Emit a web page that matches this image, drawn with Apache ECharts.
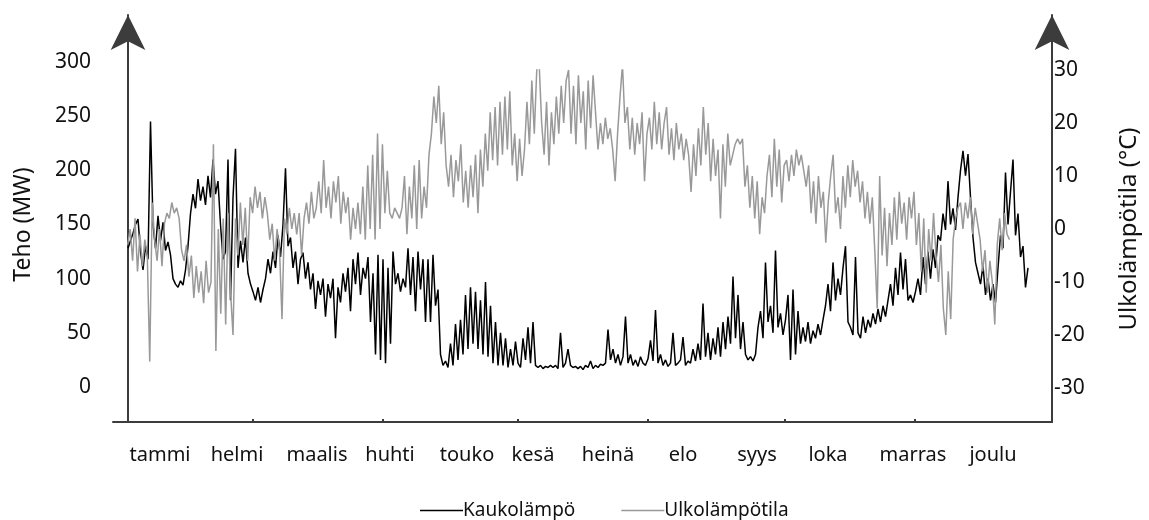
<!DOCTYPE html>
<html>
<head>
<meta charset="utf-8">
<script src="https://cdn.jsdelivr.net/npm/echarts@6/dist/echarts.min.js"></script>
<style>
  html, body { margin: 0; padding: 0; background: #fff; }
  #chart { width: 1149px; height: 520px; }
</style>
</head>
<body>
<div id="chart"></div>
<script>
// Month names along the bottom axis and their positions (sample index units)
const months = ['tammi', 'helmi', 'maalis', 'huhti', 'touko', 'kesä', 'heinä', 'elo', 'syys', 'loka', 'marras', 'joulu'];
const monthPos = [12.8, 43.6, 75.6, 104.8, 135.6, 162, 192, 222, 251.6, 280, 314, 346];
const monthTicks = [50, 102, 156, 208, 262.8, 314.8];

// Left axis: district heating power (MW)
const heatMin = 0, heatMax = 300, heatStep = 50;
// Right axis: outdoor temperature (°C)
const tempMin = -30, tempMax = 30, tempStep = 10;

// District heating power, MW, over the year
const heat = [
  128, 135, 142, 150, 155, 125, 108, 130, 118, 245,
  150, 128, 158, 135, 152, 126, 134, 122, 100, 95,
  92, 98, 94, 108, 130, 160, 178, 165, 192, 172,
  185, 168, 195, 175, 210, 178, 190, 150, 118, 125,
  210, 80, 175, 220, 110, 135, 115, 138, 105, 95,
  88, 80, 92, 78, 90, 100, 118, 105, 125, 110,
  140, 120, 150, 202, 130, 138, 110, 125, 95, 118,
  124, 100, 115, 90, 105, 72, 98, 85, 100, 65,
  95, 82, 100, 45, 92, 78, 105, 88, 110, 70,
  118, 95, 124, 85, 110, 100, 120, 60, 105, 30,
  122, 25, 118, 22, 110, 40, 125, 95, 105, 88,
  100, 92, 128, 85, 120, 70, 125, 90, 118, 60,
  118, 60, 122, 75, 90, 30, 20, 24, 18, 40,
  20, 58, 25, 62, 30, 85, 35, 92, 40, 88,
  35, 80, 30, 97, 28, 75, 22, 60, 20, 50,
  20, 45, 18, 35, 20, 42, 22, 18, 45, 25,
  55, 22, 60, 20, 18, 20, 17, 19, 18, 20,
  18, 20, 17, 50, 18, 22, 35, 20, 18, 19,
  17, 19, 16, 20, 18, 24, 17, 20, 18, 21,
  20, 22, 53, 25, 35, 22, 30, 20, 28, 65,
  22, 30, 20, 25, 19, 28, 22, 20, 26, 43,
  24, 71, 22, 30, 20, 25, 19, 22, 50, 20,
  22, 25, 46, 20, 24, 22, 35, 24, 40, 25,
  77, 28, 50, 25, 45, 30, 55, 28, 60, 35,
  65, 40, 102, 45, 85, 35, 60, 30, 25, 28,
  24, 30, 55, 70, 45, 115, 60, 75, 50, 126,
  55, 68, 48, 62, 85, 25, 90, 30, 70, 40,
  55, 42, 60, 40, 52, 45, 58, 48, 62, 75,
  95, 70, 115, 80, 100, 85, 110, 130, 60, 55,
  48, 120, 50, 45, 65, 50, 62, 55, 68, 58,
  72, 60, 75, 65, 80, 95, 75, 110, 85, 124,
  90, 118, 80, 85, 78, 88, 100, 85, 120, 95,
  125, 100, 127, 110, 140, 135, 160, 145, 190, 150,
  165, 145, 175, 200, 218, 195, 215, 175, 138, 115,
  105, 95, 112, 85, 100, 80, 95, 78, 110, 140,
  128, 198, 150, 180, 210, 140, 160, 120, 130, 92,
  110
];

// Outdoor temperature, °C, over the year
const temp = [
  -3, 0, -6, 2, -8, -1, -7, -2, -5, -25,
  5, -2, -6, 0, -7, 1, 3, 2, 5, 3,
  4, 2, -4, -6, -3, -9, -5, -13, -7, -12,
  -8, -14, -6, -12, -10, 16, -23, 0, -16, 2,
  -18, 3, -12, -20, 2, -5, 5, -3, 4, -6,
  6, 3, 8, 4, 7, 2, 6, 3, -2, 1,
  -6, 0, -4, -17, 2, -1, 4, 0, 3, -1,
  3, -5, 2, 5, 1, 7, 2, 4, 9, 3,
  13, 4, 8, 2, 9, 5, 10, 1, 7, 3,
  6, -2, 4, 0, 5, -1, 8, -2, 12, 0,
  14, -2, 18, 0, 16, 3, 11, 3, 2, 4,
  3, 2, 4, 10, -1, 8, 2, 12, 0, 13,
  2, 8, 4, 14, 18, 25, 20, 27, 16, 22,
  12, 8, 14, 6, 13, 9, 16, 5, 11, 4,
  12, 6, 14, 3, 15, 8, 18, 11, 22, 13,
  23, 12, 24, 14, 25, 15, 26, 12, 18, 9,
  17, 10, 15, 24, 16, 28, 18, 30, 31, 20,
  14, 24, 12, 22, 16, 25, 18, 27, 20, 28,
  30, 18, 27, 16, 29, 20, 26, 15, 28, 19,
  29, 22, 15, 20, 16, 21, 17, 19, 15, 9,
  18, 25, 31, 20, 23, 15, 21, 14, 20, 16,
  22, 9, 18, 21, 15, 24, 16, 22, 15, 20,
  23, 14, 19, 13, 20, 15, 18, 13, 17, 14,
  7, 16, 10, 19, 12, 23, 14, 20, 9, 17,
  10, 15, 2, 16, 8, 18, 12, 14, 16, 17,
  16, 17, 8, 12, 4, 10, 2, 9, -1, 6,
  3, 10, 14, 6, 17, 8, 15, 5, 12, 13,
  9, 14, 10, 15, 12, 14, 11, 8, 12, 3,
  9, 1, 10, 4, 7, -2.6, 5, 10, 14, 3,
  6, 0, 10, 4, 12, 6, 13, 8, 11, 5,
  9, 2, 7, 1, 6, -4, -15, 10, -5, 4,
  -7, 3, -3, 6, -2, 7, 1, 5, -2, 6,
  2, 7, -3, 3, -8, 2, -12, 0, -6, 3,
  -5, -10, -3, -15, -20, -8, -17, -2, 2, 4,
  5, 0, 5, 2, 6, -1, 4, 1, -2, -8,
  -4, -12, -6, -10, -18, -3, 2, -4, 3, -1,
  -2
];

const seriesNames = ['Kaukolämpö', 'Ulkolämpötila'];

// Shared horizontal extent of every grid (sample index units)
const xMin = -6, xMax = 369.6;
const FONT = "'Noto Sans', 'Open Sans', sans-serif";
const AXIS_COLOR = '#3c3c3c';
const TEXT_COLOR = '#111';

const chart = echarts.init(document.getElementById('chart'), null, { renderer: 'canvas' });

const hiddenX = (gridIndex) => ({
  type: 'value', gridIndex, min: xMin, max: xMax, show: false
});

const frameY = (position) => ({
  type: 'value', gridIndex: 0, position, min: 0, max: 1,
  axisLine: {
    show: true, symbol: ['none', 'arrow'], symbolSize: [26, 35],
    lineStyle: { color: AXIS_COLOR, width: 2 }
  },
  axisTick: { show: false }, axisLabel: { show: false }, splitLine: { show: false }
});

chart.setOption({
  animation: false,
  backgroundColor: '#fff',
  textStyle: { fontFamily: FONT, color: TEXT_COLOR },
  grid: [
    { left: 113, right: 97, top: 15, bottom: 98 },   // frame with arrows and months
    { left: 113, right: 97, top: 62, height: 325 },  // power scale
    { left: 113, right: 97, top: 70, height: 318 }   // temperature scale
  ],
  xAxis: [
    {
      type: 'value', gridIndex: 0, min: xMin, max: xMax,
      axisLine: { show: true, lineStyle: { color: AXIS_COLOR, width: 2 } },
      axisTick: { show: true, inside: true, length: 3, customValues: monthTicks,
                  lineStyle: { color: AXIS_COLOR, width: 2 } },
      axisLabel: {
        customValues: monthPos, margin: 23, fontSize: 20, color: TEXT_COLOR, fontFamily: FONT,
        formatter: (v) => months[monthPos.indexOf(v)] || ''
      },
      splitLine: { show: false }
    },
    hiddenX(1),
    hiddenX(2)
  ],
  yAxis: [
    frameY('left'),
    frameY('right'),
    {
      type: 'value', gridIndex: 1, position: 'left',
      min: heatMin, max: heatMax, interval: heatStep,
      axisLine: { show: false }, axisTick: { show: false }, splitLine: { show: false },
      axisLabel: { fontSize: 21, margin: 22, color: TEXT_COLOR, fontFamily: FONT },
      name: 'Teho (MW)', nameLocation: 'middle', nameRotate: 90, nameGap: 78,
      nameTextStyle: { fontSize: 23, color: TEXT_COLOR, fontFamily: FONT }
    },
    {
      type: 'value', gridIndex: 2, position: 'right',
      min: tempMin, max: tempMax, interval: tempStep,
      axisLine: { show: false }, axisTick: { show: false }, splitLine: { show: false },
      axisLabel: { fontSize: 21, margin: 21, color: TEXT_COLOR, fontFamily: FONT },
      name: 'Ulkolämpötila (°C)', nameLocation: 'middle', nameRotate: 90, nameGap: 84,
      nameTextStyle: { fontSize: 24, color: TEXT_COLOR, fontFamily: FONT }
    }
  ],
  legend: {
    data: seriesNames,
    left: 415, top: 496,
    icon: 'rect', itemWidth: 43, itemHeight: 1.5, itemGap: 46,
    textStyle: { fontSize: 19, color: TEXT_COLOR, fontFamily: FONT, padding: [0, 0, 0, -5] }
  },
  series: [
    {
      name: seriesNames[0], type: 'line', xAxisIndex: 1, yAxisIndex: 2,
      data: heat.map((v, i) => [i, v]),
      symbol: 'none', showSymbol: false,
      lineStyle: { color: '#000', width: 1.5 }, itemStyle: { color: '#000' }
    },
    {
      name: seriesNames[1], type: 'line', xAxisIndex: 2, yAxisIndex: 3,
      data: temp.map((v, i) => [i, v]),
      symbol: 'none', showSymbol: false,
      lineStyle: { color: '#999', width: 1.5 }, itemStyle: { color: '#999' }
    }
  ]
});
</script>
</body>
</html>
